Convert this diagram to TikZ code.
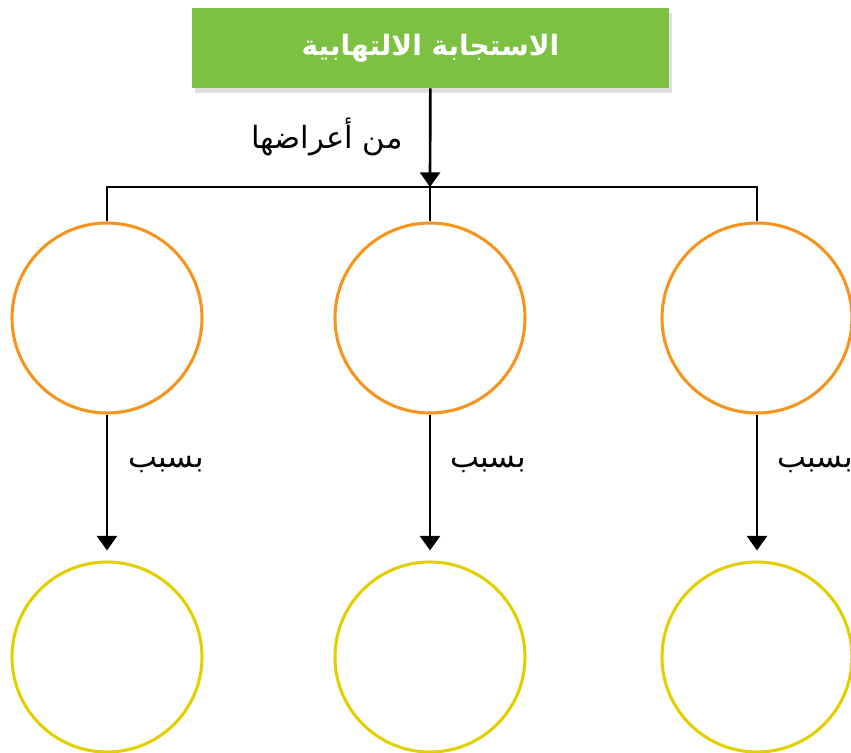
\documentclass[tikz,border=0pt]{standalone}
\usepackage{fontspec}
\newfontfamily\arabicfont[Script=Arabic]{DejaVu Sans}
\TeXXeTstate=1
\usetikzlibrary{
    arrows.meta,
    shadows
}
\definecolor{boxgreen}{HTML}{7CC142}
\definecolor{ringorange}{HTML}{F7941D}
\definecolor{ringyellow}{HTML}{E3CF00}
\tikzset{
  titlebox/.style={
    fill=boxgreen,
    minimum width=357.75pt,
    minimum height=60pt,
    text=white,
    font=\arabicfont\bfseries\fontsize{21}{24}\selectfont,
    drop shadow={shadow xshift=2.5pt,shadow yshift=-3.5pt,opacity=0.25}
  },
  ring/.style={
    circle,
    draw,
    line width=2.3pt,
    minimum size=142.5pt,
    inner sep=0pt
  },
  link/.style={
    black,
    line width=1.5pt
  },
  lbl/.style={
    font=\arabicfont\fontsize{23}{26}\selectfont,
    inner sep=1pt
  }
}

\begin{document}
\begin{tikzpicture}[x=0.75pt,y=-0.75pt,>={Triangle[width=15pt,length=11pt]}]
    \useasboundingbox (0,0) rectangle (851,753);

    % 見出し
    \node[titlebox] (title) at (430.5,48) {\beginR الاستجابة الالتهابية\endR};

    % 分岐点
    \coordinate (junc) at (430,187);

    % 円（上段）
    \node[ring,draw=ringorange] (o1) at (107,318) {};
    \node[ring,draw=ringorange] (o2) at (430,318) {};
    \node[ring,draw=ringorange] (o3) at (757,318) {};

    % 円（下段）
    \node[ring,draw=ringyellow] (y1) at (107,657) {};
    \node[ring,draw=ringyellow] (y2) at (430,657) {};
    \node[ring,draw=ringyellow] (y3) at (757,657) {};

    % 枝分かれ
    \draw[link] (o1.north) |- (junc) -| (o3.north);
    \draw[link] (junc) -- (o2.north);
    \draw[link,line width=2pt,->] (title) -- (junc);

    % 矢印
    \foreach \i in {1,2,3}
        \draw[link,line width=2.2pt,->,shorten >=7.5pt] (o\i) -- (y\i);

    % ラベル
    \node[lbl] (sym) at (327,137) {\beginR من أعراضها\endR};
    \node[lbl] (c1) at (166,465) {\beginR بسبب\endR};
    \node[lbl] (c2) at (488,465) {\beginR بسبب\endR};
    \node[lbl] (c3) at (815,465) {\beginR بسبب\endR};
\end{tikzpicture}
\end{document}
